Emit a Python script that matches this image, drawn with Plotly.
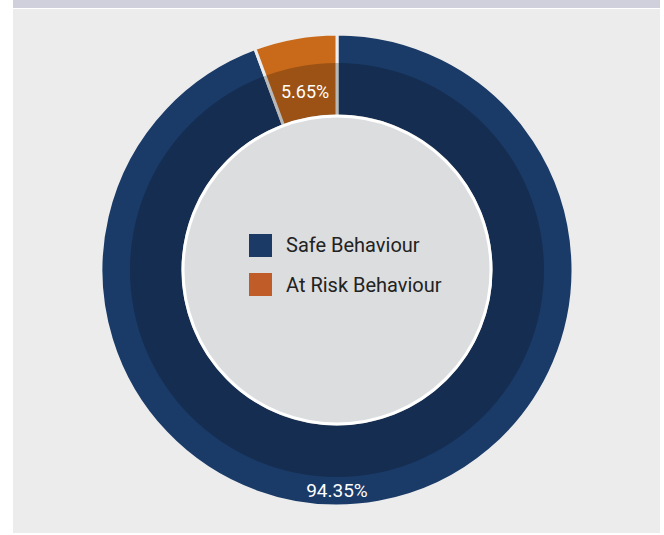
import plotly.graph_objects as go

categories = ["Safe Behaviour", "At Risk Behaviour"]
values = [94.35, 5.65]
ring_colors = ["#1a3a67", "#c86a1a"]
legend_colors = ["#1b3a66", "#bf5c27"]
label_text = ["94.35%", "5.65%"]

W, H = 664, 535
cx, cy = 337, 270
R_out, R_mid, R_in = 236, 207, 154
FONT = "Roboto"


def dom(r):
    return dict(x=[(cx - r) / W, (cx + r) / W],
                y=[(H - cy - r) / H, (H - cy + r) / H])


def px(x):
    return x / W


def py(y):
    return 1 - y / H


fig = go.Figure()

# full ring (outer, lighter tone)
fig.add_trace(go.Pie(
    labels=categories, values=values, sort=False, direction="clockwise", rotation=0,
    hole=R_in / R_out, domain=dom(R_out),
    marker=dict(colors=ring_colors, line=dict(color="#ececec", width=3)),
    textinfo="none", hoverinfo="skip", showlegend=False,
))

# darkening overlay for inner band
fig.add_trace(go.Pie(
    labels=["shade"], values=[1], sort=False,
    hole=R_in / R_mid, domain=dom(R_mid),
    marker=dict(colors=["rgba(0,0,0,0.22)"], line=dict(width=0)),
    textinfo="none", hoverinfo="skip", showlegend=False,
))

# transparent ring carrying the At Risk label in the inner band
fig.add_trace(go.Pie(
    labels=categories, values=values, sort=False, direction="clockwise", rotation=0,
    hole=R_in / R_mid, domain=dom(R_mid),
    marker=dict(colors=["rgba(0,0,0,0)", "rgba(0,0,0,0)"], line=dict(width=0)),
    text=["", label_text[1]], texttemplate="%{text}", textposition="inside",
    insidetextorientation="horizontal",
    textfont=dict(family=FONT, size=19, color="white"),
    hoverinfo="skip", showlegend=False,
))

# transparent outer band carrying the Safe label
fig.add_trace(go.Pie(
    labels=categories, values=values, sort=False, direction="clockwise", rotation=0,
    hole=R_mid / R_out, domain=dom(R_out),
    marker=dict(colors=["rgba(0,0,0,0)", "rgba(0,0,0,0)"], line=dict(width=0)),
    text=[label_text[0], ""], texttemplate="%{text}", textposition="inside",
    insidetextorientation="horizontal",
    textfont=dict(family=FONT, size=19, color="white"),
    hoverinfo="skip", showlegend=False,
))

# centre disc
fig.add_trace(go.Pie(
    labels=["centre"], values=[1], sort=False, domain=dom(R_in),
    marker=dict(colors=["#dcdddf"], line=dict(color="white", width=3)),
    textinfo="none", hoverinfo="skip", showlegend=False,
))

shapes = [
    dict(type="rect", xref="paper", yref="paper", x0=px(13), x1=px(660),
         y0=py(533), y1=py(9), fillcolor="#ececec", line=dict(width=0), layer="below"),
    dict(type="rect", xref="paper", yref="paper", x0=px(13), x1=px(660),
         y0=py(8), y1=py(0), fillcolor="#cfd0dc", line=dict(width=0), layer="below"),
]
annotations = []
for i, (name, col) in enumerate(zip(categories, legend_colors)):
    top = 234 + i * 39
    shapes.append(dict(type="rect", xref="paper", yref="paper",
                       x0=px(249), x1=px(272), y0=py(top + 23), y1=py(top),
                       fillcolor=col, line=dict(width=0)))
    annotations.append(dict(xref="paper", yref="paper", x=px(284), y=py(top + 11.5),
                            text=name, showarrow=False, xanchor="left", yanchor="middle",
                            font=dict(family=FONT, size=20, color="#222222")))

fig.update_layout(
    width=W, height=H, margin=dict(l=0, r=0, t=0, b=0),
    paper_bgcolor="white", plot_bgcolor="white",
    shapes=shapes, annotations=annotations, showlegend=False,
)

fig.write_html("out.html", config={"displayModeBar": False},
               post_script="document.body.style.margin='0';document.body.style.padding='0';")
